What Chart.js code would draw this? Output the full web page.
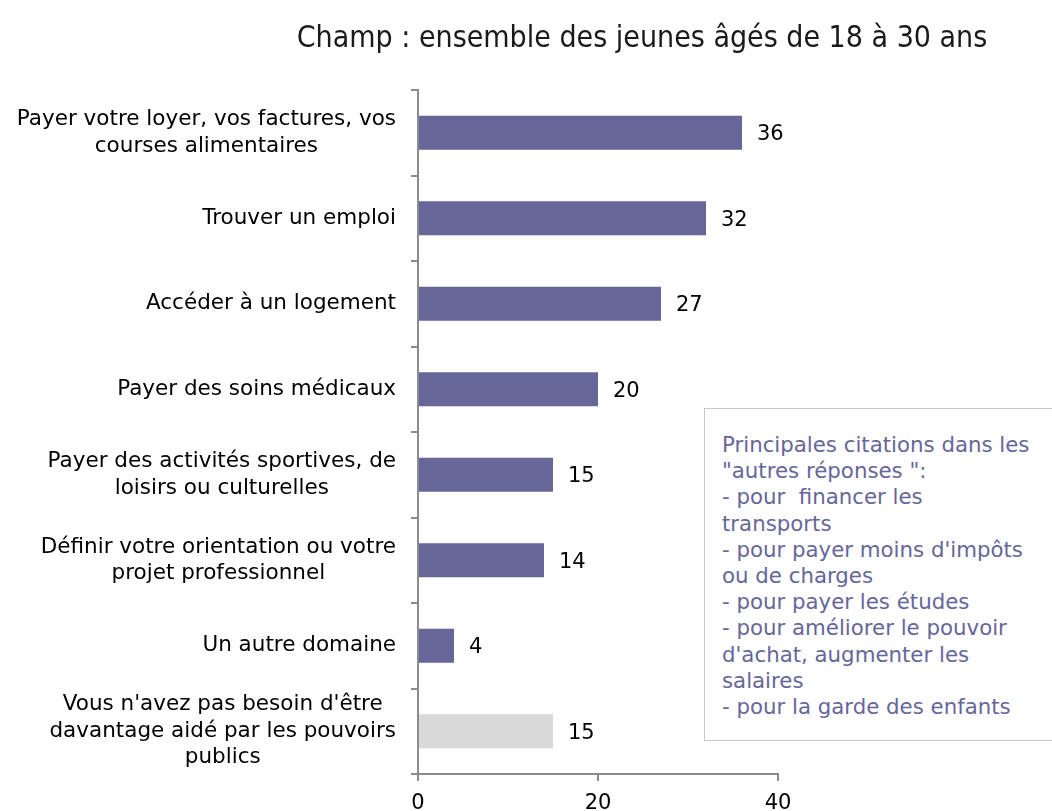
<!DOCTYPE html>
<html lang="fr">
<head>
<meta charset="utf-8">
<script src="https://cdn.jsdelivr.net/npm/chart.js@4/dist/chart.umd.min.js"></script>
<style>
  html, body { margin: 0; padding: 0; background: #fff; overflow: hidden; }
  #wrap { position: relative; width: 1052px; height: 811px; }
  #note {
    position: absolute; left: 704px; top: 408px; width: 400px; height: 333px;
    border: 1px solid #c8c8c8; box-sizing: border-box; background: #fff;
    padding: 23px 0 0 17px;
    font-family: "DejaVu Sans", Verdana, sans-serif; font-size: 21.3px; line-height: 26.2px;
    color: #66669a; white-space: pre;
  }
</style>
</head>
<body>
<div id="wrap">
  <canvas id="c" width="1052" height="811"></canvas>
  <div id="note"></div>
</div>
<script>
const titleText = "Champ : ensemble des jeunes âgés de 18 à 30 ans";
const categories = [
  ["Payer votre loyer, vos factures, vos", "courses alimentaires"],
  ["Trouver un emploi"],
  ["Accéder à un logement"],
  ["Payer des soins médicaux"],
  ["Payer des activités sportives, de", "loisirs ou culturelles"],
  ["Définir votre orientation ou votre", "projet professionnel"],
  ["Un autre domaine"],
  ["Vous n'avez pas besoin d'être", "davantage aidé par les pouvoirs", "publics"]
];
const values = [36, 32, 27, 20, 15, 14, 4, 15];
const needsHelp = [true, true, true, true, true, true, true, false];
const xTicks = [0, 20, 40];
const noteLines = [
  "Principales citations dans les",
  "\"autres réponses \":",
  "- pour  financer les",
  "transports",
  "- pour payer moins d'impôts",
  "ou de charges",
  "- pour payer les études",
  "- pour améliorer le pouvoir",
  "d'achat, augmenter les",
  "salaires",
  "- pour la garde des enfants"
];

document.getElementById("note").textContent = noteLines.join("\n");

const sansFamily = '"DejaVu Sans", Verdana, sans-serif';
const axisGrey = "#8c8c8c";

// Title, category labels and value labels drawn on the canvas
const textPlugin = {
  id: "texts",
  afterDraw(chart) {
    const ctx = chart.ctx;
    const yScale = chart.scales.y;
    const xScale = chart.scales.x;
    ctx.save();
    // title
    ctx.font = '30px "Liberation Sans Narrow", "DejaVu Sans Condensed", sans-serif';
    ctx.fillStyle = "#1a1a1a";
    ctx.textAlign = "center";
    ctx.textBaseline = "alphabetic";
    ctx.fillText(titleText, 642, 47);

    // category labels: right-aligned blocks, lines centred within each block
    ctx.font = "21.5px " + sansFamily;
    ctx.fillStyle = "#000";
    ctx.textBaseline = "middle";
    const lh = 26.5;
    categories.forEach((lines, i) => {
      const yc = yScale.getPixelForValue(i);
      const w = Math.max(...lines.map(l => ctx.measureText(l).width));
      const cx = 396 - w / 2;
      const y0 = yc - (lines.length - 1) * lh / 2;
      ctx.textAlign = "center";
      lines.forEach((l, k) => ctx.fillText(l, cx, y0 + k * lh));
    });

    // value labels
    ctx.font = "21px " + sansFamily;
    ctx.textAlign = "left";
    const meta = chart.getDatasetMeta(0);
    meta.data.forEach((bar, i) => {
      ctx.fillText(String(values[i]), xScale.getPixelForValue(values[i]) + 15, bar.y + 2);
    });
    ctx.restore();
  }
};

new Chart(document.getElementById("c"), {
  type: "bar",
  data: {
    labels: categories,
    datasets: [{
      data: values,
      backgroundColor: needsHelp.map(h => h ? "#666699" : "#d9d9d9"),
      borderWidth: 0,
      barPercentage: 0.4,
      categoryPercentage: 1
    }]
  },
  options: {
    indexAxis: "y",
    responsive: false,
    animation: false,
    layout: { padding: { top: 90, right: 274, bottom: 0, left: 0 } },
    plugins: { legend: { display: false }, tooltip: { enabled: false }, title: { display: false } },
    scales: {
      y: {
        ticks: { display: false },
        grid: { drawOnChartArea: false, drawTicks: true, tickLength: 7, color: axisGrey, lineWidth: 2, offset: true },
        border: { color: axisGrey, width: 2 },
        afterFit(s) { s.width = 418; }
      },
      x: {
        min: 0, max: 40,
        afterBuildTicks(s) { s.ticks = xTicks.map(v => ({ value: v })); },
        ticks: { color: "#000", font: { family: sansFamily, size: 21 }, padding: 10 },
        grid: { drawOnChartArea: false, drawTicks: true, tickLength: 7, color: axisGrey, lineWidth: 2 },
        border: { color: axisGrey, width: 2 },
        afterFit(s) { s.height = 37; }
      }
    }
  },
  plugins: [textPlugin]
});
</script>
</body>
</html>
